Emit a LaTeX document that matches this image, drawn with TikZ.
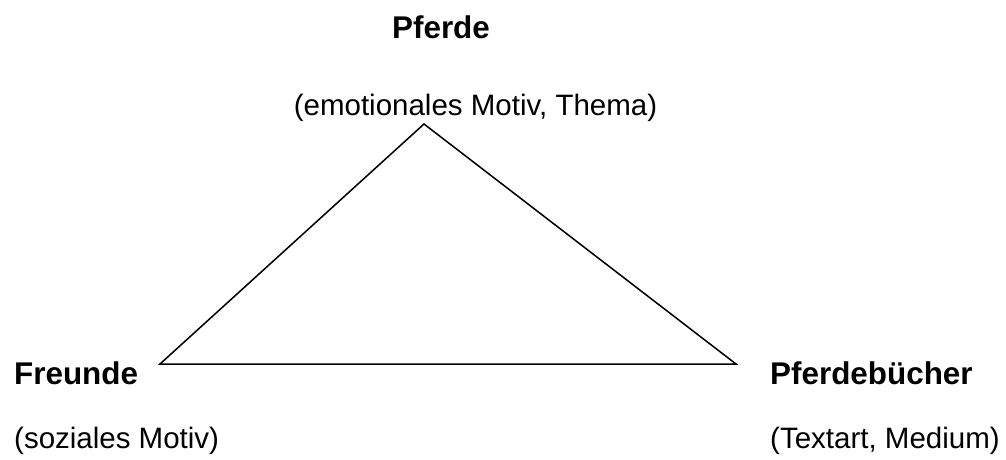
\documentclass[tikz,border=0pt]{standalone}
\usepackage{fontspec}
\setmainfont{Liberation Sans}
\begin{document}
\begin{tikzpicture}[x=1pt,y=-1pt,
  lbl/.style={inner sep=0pt,font=\fontsize{29.5}{34}\selectfont},
  title/.style={inner sep=0pt,font=\fontsize{31.4}{36}\selectfont\bfseries},
  edge/.style={draw=black,line width=1.5pt,line join=miter}]
\useasboundingbox (0,0) rectangle (1006,459);
% vertices
\coordinate (top) at (424,124);
\coordinate (left) at (160,364);
\coordinate (right) at (736,364);
\draw[edge] (top) -- (left) -- (right) -- cycle;
% labels
\node[title,anchor=base] (pferde) at (441,38) {Pferde};
\node[lbl,anchor=base] (pferdesub) at (475.5,115.7) {(emotionales Motiv, Thema)};
\node[title,anchor=base west] (freunde) at (14,384) {Freunde};
\node[lbl,anchor=base west] (freundesub) at (14,448) {(soziales Motiv)};
\node[title,anchor=base west] (buecher) at (770,384) {Pferdebücher};
\node[lbl,anchor=base west] (buechersub) at (770,448) {(Textart, Medium)};
\end{tikzpicture}
\end{document}
